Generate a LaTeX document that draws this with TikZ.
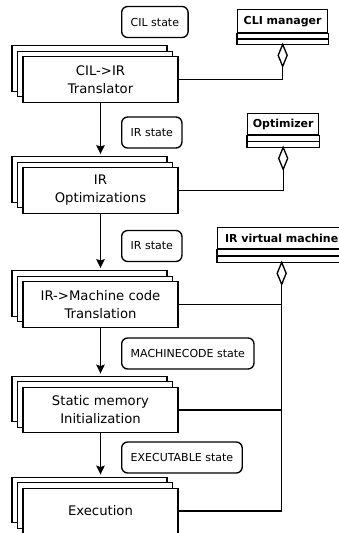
\documentclass[tikz,border=0pt]{standalone}
\usepackage{fontspec}
\setmainfont{DejaVu Sans}
\usetikzlibrary{shadows,arrows.meta}
\begin{document}
\begin{tikzpicture}[x=1pt,y=-1pt,line width=1.35pt,
  proc/.style={draw, fill=white, minimum width=155pt, minimum height=45.5pt, align=center, inner sep=0pt,
    font=\fontsize{13.2}{18}\selectfont,
    copy shadow={shadow xshift=-11pt, shadow yshift=11pt, fill=white, draw=black, line width=1.35pt},
    copy shadow={shadow xshift=-5.5pt, shadow yshift=5.5pt, fill=white, draw=black, line width=1.35pt}},
  statebox/.style={draw, rounded corners=6pt, anchor=west, minimum height=31pt, inner xsep=9pt,
    font=\fontsize{11}{13}\selectfont},
  cls/.style={draw, fill=white, anchor=north west, inner sep=0pt, font=\bfseries\fontsize{11}{13}\selectfont},
  arr/.style={-{Stealth[length=9pt,width=8.5pt,inset=1.5pt]}},
  dia/.style={draw, fill=white}
]
\useasboundingbox (0,0) rectangle (339,533);
\clip (0,0) rectangle (339,533);

% process boxes
\node[proc] (trans) at (100.5,79.5) {CIL->IR\\Translator};
\node[proc] (opt) at (100.5,190.5) {IR\\Optimizations};
\node[proc] (mc) at (100.5,304.5) {IR->Machine code\\Translation};
\node[proc] (sm) at (100.5,410) {Static memory\\Initialization};
\node[proc] (ex) at (100.5,511) {Execution};

% state labels
\node[statebox] (s1) at (121,22) {CIL state};
\node[statebox] (s2) at (121,132.5) {IR state};
\node[statebox] (s3) at (121,246) {IR state};
\node[statebox] (s4) at (121,353.5) {MACHINECODE state};
\node[statebox] (s5) at (121,457.5) {EXECUTABLE state};

% arrows
\draw[arr] (trans.south) -- ([yshift=13pt]opt.north);
\draw[arr] (opt.south) -- ([yshift=13pt]mc.north);
\draw[arr] (mc.south) -- ([yshift=13pt]sm.north);
\draw[arr] (sm.south) -- ([yshift=13pt]ex.north);

% class boxes
\node[cls, minimum width=90pt, minimum height=23pt] (cli) at (237,9) {CLI manager};
\draw (cli.south west) rectangle ([yshift=-11pt]cli.south east);
\draw ([yshift=-5.5pt]cli.south west) -- ([yshift=-5.5pt]cli.south east);
\coordinate (clib) at ([yshift=-11pt]cli.south);
\draw[dia] (clib) -- ++(4.5,11) -- ++(-4.5,11) -- ++(-4.5,-11) -- cycle;
\coordinate (clid) at ([yshift=-22pt]clib);

\node[cls, minimum width=71pt, minimum height=21pt] (optc) at (247,113) {Optimizer};
\draw (optc.south west) rectangle ([yshift=-12pt]optc.south east);
\draw ([yshift=-6pt]optc.south west) -- ([yshift=-6pt]optc.south east);
\coordinate (optb) at ([yshift=-12pt]optc.south);
\draw[dia] (optb) -- ++(4.5,11) -- ++(-4.5,11) -- ++(-4.5,-11) -- cycle;
\coordinate (optd) at ([yshift=-22pt]optb);

\node[cls, minimum width=128pt, minimum height=21pt] (irvm) at (217,227) {IR virtual machine};
\draw (irvm.south west) rectangle ([yshift=-13pt]irvm.south east);
\draw ([yshift=-6.5pt]irvm.south west) -- ([yshift=-6.5pt]irvm.south east);
\coordinate (irvb) at ([yshift=-13pt]irvm.south);
\draw[dia] (irvb) -- ++(4.5,11) -- ++(-4.5,11) -- ++(-4.5,-11) -- cycle;
\coordinate (irvd) at ([yshift=-22pt]irvb);

% connectors
\draw (trans.east) -| (clid);
\draw (opt.east) -| (optd);
\draw (irvd) |- (ex.east);
\draw (mc.east) -- (mc.east -| irvd);
\draw (sm.east) -- (sm.east -| irvd);
\end{tikzpicture}
\end{document}
